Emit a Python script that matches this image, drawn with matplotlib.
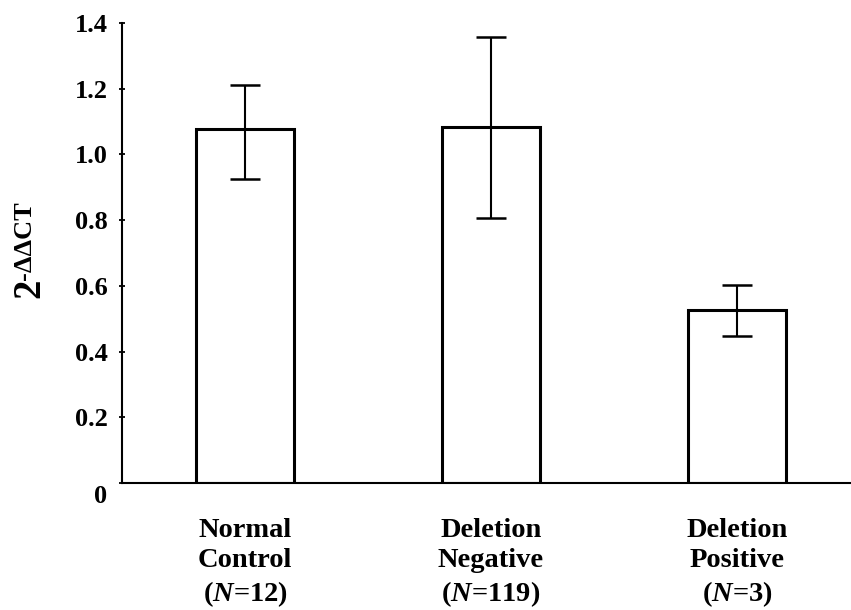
import numpy as np
import matplotlib
matplotlib.use("Agg")
import matplotlib.pyplot as plt
import matplotlib.transforms as mtransforms

# Data
groups = ["Normal\nControl", "Deletion\nNegative", "Deletion\nPositive"]
n_values = [12, 119, 3]
means = [1.077, 1.084, 0.526]
err_upper = [1.211, 1.358, 0.603]
err_lower = [0.925, 0.806, 0.447]

plt.rcParams["font.family"] = ["Liberation Serif", "DejaVu Serif"]
plt.rcParams["font.weight"] = "bold"
plt.rcParams["mathtext.fontset"] = "custom"
plt.rcParams["mathtext.it"] = "Liberation Serif:italic:bold"
plt.rcParams["mathtext.rm"] = "Liberation Serif:bold"

fig = plt.figure(figsize=(8.51, 6.10), dpi=100)
ax = fig.add_axes([122 / 851, 127 / 610, 728 / 851, 460 / 610])

x = np.arange(len(groups))
yerr = [np.array(means) - np.array(err_lower), np.array(err_upper) - np.array(means)]

ax.bar(x, means, width=0.4, color="white", edgecolor="black", linewidth=2.2, zorder=2)
ax.errorbar(x, means, yerr=yerr, fmt="none", ecolor="black", elinewidth=1.5,
            capsize=10.8, capthick=1.8, zorder=3)

ax.set_xlim(-0.5, 2.46)
ax.set_ylim(0, 1.4)

# axes styling
ax.spines["top"].set_visible(False)
ax.spines["right"].set_visible(False)
ax.spines["left"].set_linewidth(1.5)
ax.spines["bottom"].set_linewidth(1.5)

yt = np.arange(0, 1.41, 0.2)
ax.set_yticks(yt)
ax.set_yticklabels(["0"] + ["%.1f" % v for v in yt[1:]])
ax.tick_params(axis="y", direction="inout", length=5, width=1.3, pad=8, labelsize=19)

xlabels = [g + "\n(" + r"$\mathit{N}$" + "=%d)" % n for g, n in zip(groups, n_values)]
ax.set_xticks(x)
ax.set_xticklabels(xlabels, fontsize=20.5, linespacing=1.28)
ax.tick_params(axis="x", length=0, pad=25)

for lab in ax.get_yticklabels():
    lab.set_fontweight("bold")
for lab in ax.get_xticklabels():
    lab.set_fontweight("bold")

# "0" label sits a bit lower in the original
zero = ax.get_yticklabels()[0]
zero.set_transform(zero.get_transform() +
                   mtransforms.ScaledTranslation(0, -11 / 100, fig.dpi_scale_trans))

# y label: 2^-ΔΔCT
fig.text(29.5 / 851, 1 - 288 / 610, "2", rotation=90, ha="center", va="center",
         fontsize=28, fontweight="bold")
fig.text(24.5 / 851, 1 - 241 / 610, "-\u0394\u0394CT", rotation=90, ha="center", va="center",
         fontsize=19, fontweight="bold")

fig.savefig("out.png", dpi=100)
